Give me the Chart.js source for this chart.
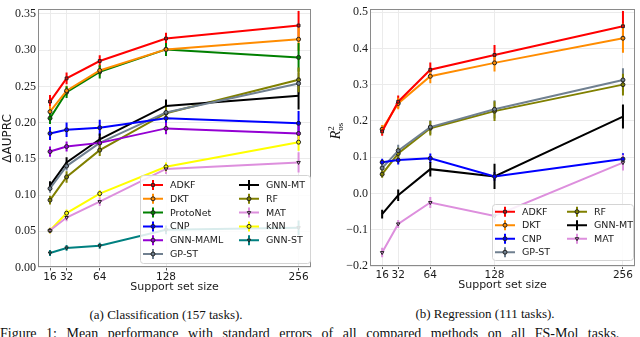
<!DOCTYPE html>
<html>
<head>
<meta charset="utf-8">
<script src="https://cdn.jsdelivr.net/npm/chart.js@4.4.1/dist/chart.umd.min.js"></script>
<style>
  body { margin: 0; background: #fff; width: 640px; height: 337px; overflow: hidden; position: relative; }
  canvas { position: absolute; top: 0; }
  #cls { left: 0; }
  #reg { left: 320px; }
  .cap { position: absolute; font-family: "Liberation Serif", serif; font-size: 13px; line-height: 13px; white-space: nowrap; color: #111; }
</style>
</head>
<body>
<canvas id="cls" width="316" height="296"></canvas>
<canvas id="reg" width="320" height="296"></canvas>
<div class="cap" style="left:166px;top:308px;transform:translateX(-50%)">(a) Classification (157 tasks).</div>
<div class="cap" style="left:485px;top:307px;transform:translateX(-50%)">(b) Regression (111 tasks).</div>
<div class="cap" style="left:0;top:327px;font-size:14px;line-height:14px;word-spacing:6px">Figure 1: Mean performance with standard errors of all compared methods on all FS-Mol tasks.</div>
<script>
const sizes = [16, 32, 64, 128, 256];

// (a) classification, delta AUPRC
const clsMethods = ['ADKF', 'DKT', 'ProtoNet', 'CNP', 'GNN-MAML', 'GP-ST', 'GNN-MT', 'RF', 'MAT', 'kNN', 'GNN-ST'];
const clsADKF     = [0.229, 0.261, 0.285, 0.316, 0.334];
const clsDKT      = [0.215, 0.244, 0.272, 0.301, 0.315];
const clsProtoNet = [0.206, 0.242, 0.270, 0.301, 0.290];
const clsCNP      = [0.185, 0.190, 0.193, 0.206, 0.199];
const clsMAML     = [0.160, 0.167, 0.172, 0.192, 0.185];
const clsGPST     = [0.109, 0.140, 0.172, 0.214, 0.254];
const clsGNNMT    = [0.113, 0.145, 0.177, 0.223, 0.237];
const clsRF       = [0.093, 0.125, 0.162, 0.213, 0.259];
const clsMAT      = [0.051, 0.069, 0.091, 0.136, 0.145];
const clsKNN      = [0.051, 0.075, 0.102, 0.139, 0.173];
const clsGNNST    = [0.020, 0.027, 0.030, 0.052, 0.055];
// standard errors
const clsADKFErr     = [0.009, 0.008, 0.008, 0.008, 0.020];
const clsDKTErr      = [0.008, 0.007, 0.007, 0.007, 0.016];
const clsProtoNetErr = [0.008, 0.008, 0.009, 0.009, 0.020];
const clsCNPErr      = [0.009, 0.010, 0.011, 0.009, 0.017];
const clsMAMLErr     = [0.007, 0.007, 0.008, 0.008, 0.015];
const clsGPSTErr     = [0.006, 0.006, 0.007, 0.008, 0.015];
const clsGNNMTErr    = [0.006, 0.007, 0.008, 0.009, 0.019];
const clsRFErr       = [0.006, 0.008, 0.008, 0.009, 0.017];
const clsMATErr      = [0.004, 0.005, 0.006, 0.007, 0.014];
const clsKNNErr      = [0.004, 0.005, 0.005, 0.006, 0.012];
const clsGNNSTErr    = [0.004, 0.004, 0.004, 0.006, 0.010];
const clsTicks = [0, 0.05, 0.10, 0.15, 0.20, 0.25, 0.30, 0.35];

// (b) regression, R^2_os
const regMethods = ['ADKF', 'DKT', 'CNP', 'GP-ST', 'RF', 'GNN-MT', 'MAT'];
const regADKF  = [0.171, 0.253, 0.341, 0.382, 0.461];
const regDKT   = [0.177, 0.248, 0.323, 0.360, 0.428];
const regCNP   = [0.086, 0.092, 0.097, 0.047, 0.095];
const regGPST  = [0.070, 0.118, 0.183, 0.232, 0.313];
const regRF    = [0.053, 0.110, 0.180, 0.227, 0.300];
const regGNNMT = [-0.057, -0.005, 0.067, 0.047, 0.212];
const regMAT   = [-0.163, -0.084, -0.025, -0.062, 0.085];
const regADKFErr  = [0.012, 0.017, 0.020, 0.027, 0.042];
const regDKTErr   = [0.012, 0.016, 0.019, 0.024, 0.040];
const regCNPErr   = [0.010, 0.012, 0.013, 0.012, 0.016];
const regGPSTErr  = [0.012, 0.016, 0.019, 0.025, 0.032];
const regRFErr    = [0.010, 0.016, 0.020, 0.027, 0.030];
const regGNNMTErr = [0.012, 0.016, 0.020, 0.035, 0.033];
const regMATErr   = [0.013, 0.011, 0.015, 0.018, 0.022];
const regTicks = [-0.2, -0.1, 0, 0.1, 0.2, 0.3, 0.4, 0.5];

const colors = {
  'ADKF': '#ff0000', 'DKT': '#ff8c00', 'ProtoNet': '#008000', 'CNP': '#0000ff',
  'GNN-MAML': '#9400d3', 'GP-ST': '#708090', 'GNN-MT': '#000000', 'RF': '#808000',
  'MAT': '#dd8fdd', 'kNN': '#ffff00', 'GNN-ST': '#008080'
};
const markers = {
  'ADKF': 'rect', 'DKT': 'circle', 'ProtoNet': 'circle', 'CNP': 'circle', 'GNN-MAML': 'circle',
  'GP-ST': 'circle', 'GNN-MT': false, 'RF': 'circle', 'MAT': 'triangle', 'kNN': 'circle', 'GNN-ST': 'triangle'
};

const SANS = '"DejaVu Sans", sans-serif';
const SERIF = '"Liberation Serif", serif';

// vertical error bars, drawn under the lines
const errorBars = {
  id: 'errorBars',
  beforeDatasetsDraw(chart) {
    const { ctx, chartArea, scales: { x, y } } = chart;
    ctx.save();
    ctx.beginPath();
    ctx.rect(chartArea.left, chartArea.top, chartArea.width, chartArea.height);
    ctx.clip();
    ctx.lineWidth = 2;
    chart.data.datasets.forEach(ds => {
      ctx.strokeStyle = ds.borderColor;
      ds.data.forEach((p, i) => {
        const px = x.getPixelForValue(p.x);
        ctx.beginPath();
        ctx.moveTo(px, y.getPixelForValue(p.y - ds.errors[i]));
        ctx.lineTo(px, y.getPixelForValue(p.y + ds.errors[i]));
        ctx.stroke();
      });
    });
    ctx.restore();
  }
};

// frame, custom y title and two-column legend
const decor = {
  id: 'decor',
  afterDraw(chart, args, opt) {
    const ctx = chart.ctx;
    const a = chart.chartArea;
    ctx.save();
    ctx.strokeStyle = '#8a8a8a';
    ctx.lineWidth = 1;
    ctx.strokeRect(Math.round(a.left) + 0.5, Math.round(a.top) + 0.5,
                   Math.round(a.width) - 1, Math.round(a.height) - 1);

    if (opt.rTitle) {
      ctx.translate(opt.rTitle.x, opt.rTitle.y);
      ctx.rotate(-Math.PI / 2);
      ctx.fillStyle = '#111';
      ctx.textBaseline = 'alphabetic';
      ctx.font = 'italic 14px ' + SERIF;
      const wR = ctx.measureText('R').width;
      ctx.font = '9px ' + SERIF;
      const wOs = ctx.measureText('os').width;
      const x0 = -(wR + wOs) / 2;
      ctx.font = 'italic 14px ' + SERIF;
      ctx.fillText('R', x0, 5);
      ctx.font = '9px ' + SERIF;
      ctx.fillText('2', x0 + wR, -1);
      ctx.fillText('os', x0 + wR, 8);
      ctx.setTransform(1, 0, 0, 1, 0, 0);
    }

    const L = opt.legend;
    ctx.beginPath();
    ctx.roundRect(L.box[0] + 0.5, L.box[1] + 0.5, L.box[2], L.box[3], 3);
    ctx.fillStyle = 'rgba(255,255,255,0.85)';
    ctx.fill();
    ctx.strokeStyle = '#d4d4d4';
    ctx.stroke();
    ctx.font = '9.5px ' + SANS;
    ctx.textBaseline = 'middle';
    chart.data.datasets.forEach((ds, k) => {
      const col = k < L.perCol ? 0 : 1;
      const row = col ? k - L.perCol : k;
      const x0 = L.colX[col];
      const yy = L.rowY + row * L.rowH;
      ctx.strokeStyle = ds.borderColor;
      ctx.lineWidth = 2;
      ctx.beginPath();
      ctx.moveTo(x0, yy); ctx.lineTo(x0 + 20, yy);
      ctx.moveTo(x0 + 10, yy - 5); ctx.lineTo(x0 + 10, yy + 5);
      ctx.stroke();
      if (ds.pointStyle) {
        ctx.fillStyle = ds.pointBackgroundColor;
        ctx.strokeStyle = '#222';
        ctx.lineWidth = 1;
        Chart.helpers.drawPoint(ctx, { pointStyle: ds.pointStyle, radius: 2, borderWidth: 1, rotation: ds.pointRotation || 0 }, x0 + 10, yy);
      }
      ctx.fillStyle = '#1a1a1a';
      ctx.fillText(ds.label, x0 + 27, yy + 0.5);
    });
    ctx.restore();
  }
};

function makeDatasets(methods, means, errs) {
  return methods.map((m, k) => ({
    label: m,
    data: sizes.map((s, i) => ({ x: s, y: means[k][i] })),
    errors: errs[k],
    borderColor: colors[m],
    backgroundColor: colors[m],
    borderWidth: 2,
    pointStyle: markers[m],
    pointRadius: markers[m] ? 2 : 0,
    pointRotation: markers[m] === 'triangle' ? 180 : 0,
    pointBackgroundColor: colors[m],
    pointBorderColor: '#222',
    pointBorderWidth: 1,
    tension: 0,
    order: k
  }));
}

function makeChart(id, o) {
  return new Chart(document.getElementById(id), {
    type: 'line',
    data: { datasets: makeDatasets(o.methods, o.means, o.errs) },
    plugins: [errorBars, decor],
    options: {
      responsive: false,
      animation: false,
      layout: { padding: { left: 0, right: o.padRight, top: o.padTop, bottom: 0 } },
      plugins: {
        legend: { display: false },
        tooltip: { enabled: false },
        decor: { legend: o.legend, rTitle: o.rTitle }
      },
      scales: {
        x: {
          type: 'linear',
          min: o.xMin, max: 268,
          afterBuildTicks: ax => { ax.ticks = sizes.map(v => ({ value: v })); },
          afterFit: s => { s.height = o.xHeight; },
          ticks: { font: { family: SANS, size: 10.5 }, color: '#1a1a1a', padding: 0, maxRotation: 0, autoSkip: false },
          grid: { color: '#ebebeb', tickColor: '#555', tickLength: 3 },
          border: { display: false },
          title: { display: true, text: 'Support set size', font: { family: SANS, size: 11 }, color: '#1a1a1a',
                   padding: { top: 0, bottom: o.xTitlePad } }
        },
        y: {
          min: o.yMin, max: o.yMax,
          afterBuildTicks: ax => { ax.ticks = o.yTicks.map(v => ({ value: v })); },
          afterFit: s => { s.width = o.yWidth; },
          ticks: {
            font: { family: SERIF, size: 12 }, color: '#1a1a1a', padding: 2,
            callback: v => v.toFixed(o.yDec).replace('-', '\u2212')
          },
          grid: { color: '#ebebeb', tickLength: 0 },
          border: { display: false },
          title: { display: !!o.yTitle, text: o.yTitle, font: { family: SANS, size: 12 }, color: '#1a1a1a',
                   padding: { top: 0.5, bottom: 0 } }
        }
      }
    }
  });
}

makeChart('cls', {
  methods: clsMethods,
  means: [clsADKF, clsDKT, clsProtoNet, clsCNP, clsMAML, clsGPST, clsGNNMT, clsRF, clsMAT, clsKNN, clsGNNST],
  errs: [clsADKFErr, clsDKTErr, clsProtoNetErr, clsCNPErr, clsMAMLErr, clsGPSTErr, clsGNNMTErr, clsRFErr, clsMATErr, clsKNNErr, clsGNNSTErr],
  xMin: 4.4, yMin: 0, yMax: 0.3565, yTicks: clsTicks, yDec: 2,
  padRight: 4.3, padTop: 2, xHeight: 28.5, yWidth: 38, xTitlePad: 2.4,
  yTitle: '\u0394AUPRC',
  legend: { box: [140, 175, 170, 88], perCol: 6, colX: [143, 239], rowY: 185, rowH: 13.8 }
});

makeChart('reg', {
  methods: regMethods,
  means: [regADKF, regDKT, regCNP, regGPST, regRF, regGNNMT, regMAT],
  errs: [regADKFErr, regDKTErr, regCNPErr, regGPSTErr, regRFErr, regGNNMTErr, regMATErr],
  xMin: 3.9, yMin: -0.2, yMax: 0.508, yTicks: regTicks, yDec: 1,
  padRight: 1, padTop: 5, xHeight: 30, yWidth: 50, xTitlePad: 4.4,
  yTitle: '',
  rTitle: { x: 15, y: 131 },
  legend: { box: [172, 204, 141, 56], perCol: 4, colX: [175, 247], rowY: 211.7, rowH: 13.5 }
});
</script>
</body>
</html>
